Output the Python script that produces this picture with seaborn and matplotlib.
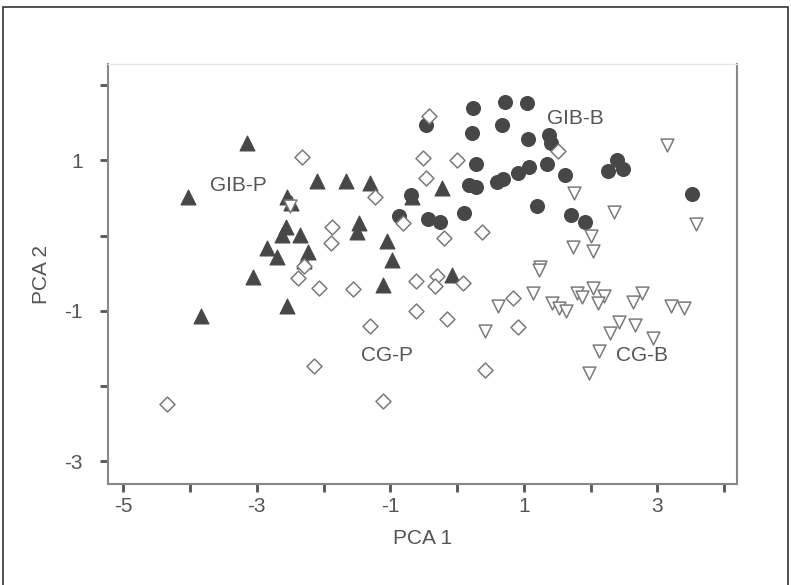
import matplotlib
matplotlib.use("Agg")
import matplotlib.pyplot as plt
from matplotlib.patches import Rectangle
import seaborn as sns
import pandas as pd

sns.set_style("white")
plt.rcParams['font.family'] = ['Liberation Sans', 'DejaVu Sans']

# GIB-P (filled triangles)
gibp_x = [-3.15, -4.03, -2.10, -2.55, -2.49, -2.56, -2.62, -2.35, -2.85, -2.70,
          -2.23, -2.29, -3.06, -3.84, -2.55, -1.66, -1.30, -0.22, -1.47, -1.50,
          -1.05, -0.97, -0.67, -0.07, -1.11]
gibp_y = [1.23, 0.51, 0.72, 0.51, 0.43, 0.11, 0.01, 0.01, -0.17, -0.29,
          -0.22, -0.34, -0.55, -1.07, -0.94, 0.72, 0.70, 0.63, 0.17, 0.05,
          -0.07, -0.33, 0.51, -0.52, -0.66]

# GIB-B (filled circles)
gibb_x = [0.24, 0.72, 1.05, 0.67, 0.22, -0.46, 1.37, 1.40, 1.06, 0.28,
          1.35, 1.08, 0.91, 0.69, 0.60, 0.18, 0.28, 1.62, 2.26, 2.40,
          2.49, -0.69, -0.87, -0.43, -0.25, 0.10, 1.20, 1.70, 1.91, 3.52]
gibb_y = [1.70, 1.77, 1.76, 1.47, 1.36, 1.47, 1.34, 1.23, 1.28, 0.95,
          0.95, 0.91, 0.83, 0.75, 0.71, 0.67, 0.64, 0.80, 0.86, 1.00,
          0.88, 0.54, 0.26, 0.22, 0.18, 0.30, 0.39, 0.27, 0.18, 0.55]

# CG-P (open diamonds)
cgp_x = [-2.32, -0.42, -0.51, 0.00, -0.46, -1.23, -0.81, -1.87, -1.89, -0.19,
         0.37, 1.51, -2.29, -2.38, -2.07, -1.56, -0.61, -0.30, -0.33, 0.09,
         -0.61, -0.15, -1.30, -2.14, -1.11, 0.42, 0.84, 0.91, -4.34]
cgp_y = [1.04, 1.59, 1.03, 1.00, 0.77, 0.51, 0.17, 0.11, -0.10, -0.03,
         0.05, 1.12, -0.40, -0.56, -0.70, -0.71, -0.60, -0.54, -0.67, -0.63,
         -1.00, -1.11, -1.20, -1.73, -2.20, -1.79, -0.83, -1.22, -2.24]

# CG-B (open down triangles)
cgb_x = [3.15, 1.75, 2.35, 3.58, 2.00, 1.74, 2.04, 1.24, 1.23, 1.14,
         1.42, 1.53, 1.63, 1.80, 1.87, 2.04, 2.20, 2.11, 2.64, 2.77,
         3.20, 3.40, 2.43, 2.66, 2.29, 2.94, 2.13, 1.98, 0.61, 0.42, -2.50]
cgb_y = [1.20, 0.56, 0.31, 0.15, -0.01, -0.15, -0.21, -0.42, -0.46, -0.76,
         -0.90, -0.96, -1.00, -0.76, -0.82, -0.70, -0.80, -0.90, -0.88, -0.76,
         -0.93, -0.96, -1.15, -1.19, -1.30, -1.36, -1.53, -1.82, -0.93, -1.27, 0.40]

group_names = ["GIB-P", "GIB-B", "CG-P", "CG-B"]
label_x = [-3.28, 1.77, -1.05, 2.77]
label_y = [0.66, 1.56, -1.59, -1.59]

x_ticks = [-5, -4, -3, -2, -1, 0, 1, 2, 3, 4]
x_ticklabels = ["-5", "", "-3", "", "-1", "", "1", "", "3", ""]
y_ticks = [-3, -2, -1, 0, 1, 2]
y_ticklabels = ["-3", "", "-1", "", "1", ""]

df = pd.concat([
    pd.DataFrame({"PCA 1": gibp_x, "PCA 2": gibp_y, "group": "GIB-P"}),
    pd.DataFrame({"PCA 1": gibb_x, "PCA 2": gibb_y, "group": "GIB-B"}),
    pd.DataFrame({"PCA 1": cgp_x, "PCA 2": cgp_y, "group": "CG-P"}),
    pd.DataFrame({"PCA 1": cgb_x, "PCA 2": cgb_y, "group": "CG-B"}),
], ignore_index=True)

styles = {
    "GIB-P": dict(marker="^", s=115, color="#474747", edgecolor="#474747", linewidth=0.8),
    "GIB-B": dict(marker="o", s=100, color="#474747", edgecolor="#474747", linewidth=0.8),
    "CG-P": dict(marker="D", s=58, color="white", edgecolor="#7a7a7a", linewidth=1.1),
    "CG-B": dict(marker="v", s=85, color="white", edgecolor="#7a7a7a", linewidth=1.1),
}

fig = plt.figure(figsize=(7.91, 5.85), dpi=100)
ax = fig.add_axes([0.1365, 0.1726, 0.795, 0.718])

for g in group_names:
    sub = df[df["group"] == g]
    sns.scatterplot(data=sub, x="PCA 1", y="PCA 2", ax=ax, legend=False, zorder=3, **styles[g])

for name, lx, ly in zip(group_names, label_x, label_y):
    ax.text(lx, ly, name, ha="center", va="center", fontsize=15, color="#555555", zorder=4)

ax.set_xlim(-5.23, 4.19)
ax.set_ylim(-3.30, 2.28)
ax.set_xticks(x_ticks)
ax.set_xticklabels(x_ticklabels)
ax.set_yticks(y_ticks)
ax.set_yticklabels(y_ticklabels)
ax.tick_params(bottom=True, left=True, direction="out", length=6, width=2,
               color="#555555", labelsize=15, labelcolor="#555555")
ax.tick_params(axis="x", pad=3)
ax.tick_params(axis="y", pad=12)
ax.set_xlabel("PCA 1", fontsize=15, color="#555555", labelpad=10)
ax.set_ylabel("PCA 2", fontsize=15, color="#555555", labelpad=10)

for side in ["left", "bottom", "right"]:
    ax.spines[side].set_color("#888888")
    ax.spines[side].set_linewidth(1.5)
ax.spines["top"].set_color("#e6e6e6")
ax.spines["top"].set_linewidth(1.0)

# thin frame around the whole image (bottom edge falls outside)
fig.patches.append(Rectangle((3 / 791, -0.02), 785 / 791, 1.02 - 7 / 585, transform=fig.transFigure,
                             fill=False, edgecolor="#333333", linewidth=1.2))

fig.savefig("out.png", dpi=100)
